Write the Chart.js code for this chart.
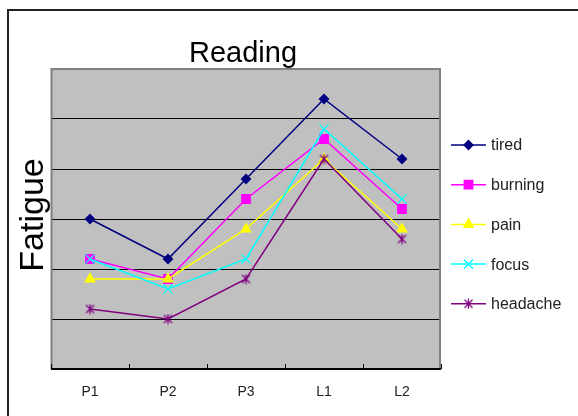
<!DOCTYPE html>
<html>
<head>
<meta charset="utf-8">
<title>Reading</title>
<script src="https://cdn.jsdelivr.net/npm/chart.js@4/dist/chart.umd.min.js"></script>
<style>
  html, body { margin: 0; padding: 0; background: #ffffff; }
  #wrap { width: 578px; height: 416px; position: relative; }
</style>
</head>
<body>
<div id="wrap"><canvas id="chart" width="578" height="416"></canvas></div>
<script>
// Fatigue ratings per reading condition
const categories = ['P1', 'P2', 'P3', 'L1', 'L2'];
const tired    = [3.0, 2.2, 3.8, 5.4, 4.2];
const burning  = [2.2, 1.8, 3.4, 4.6, 3.2];
const pain     = [1.8, 1.8, 2.8, 4.2, 2.8];
const focus    = [2.2, 1.6, 2.2, 4.8, 3.4];
const headache = [1.2, 1.0, 1.8, 4.2, 2.6];
const seriesNames = ['tired', 'burning', 'pain', 'focus', 'headache'];
const yMin = 0, yMax = 6, yStep = 1;

const titleText = 'Reading';
const yTitleText = 'Fatigue';
const FONT = '"Liberation Sans", Arial, sans-serif';

// asterisk marker: an X crossed by a vertical stroke
function makeStar(color) {
  const c = document.createElement('canvas');
  c.width = 11; c.height = 11;
  const g = c.getContext('2d');
  g.strokeStyle = color;
  g.lineWidth = 1.3;
  g.beginPath();
  g.moveTo(1.5, 1.5); g.lineTo(9.5, 9.5);
  g.moveTo(9.5, 1.5); g.lineTo(1.5, 9.5);
  g.moveTo(5.5, 0.5); g.lineTo(5.5, 10.5);
  g.stroke();
  return c;
}

const styles = [
  { color: '#000080', pointStyle: 'rectRot',  radius: 4.5 },
  { color: '#FF00FF', pointStyle: 'rect',     radius: 6   },
  { color: '#FFFF00', pointStyle: 'triangle', radius: 5.5 },
  { color: '#00FFFF', pointStyle: 'crossRot', radius: 6.5 },
  { color: '#800080', pointStyle: makeStar('#800080'), radius: 5.5 }
];
const values = [tired, burning, pain, focus, headache];

const datasets = seriesNames.map((name, i) => ({
  label: name,
  data: values[i],
  borderColor: styles[i].color,
  backgroundColor: styles[i].color,
  borderWidth: 1.5,
  pointStyle: styles[i].pointStyle,
  pointRadius: styles[i].radius,
  pointHoverRadius: styles[i].radius,
  pointBorderWidth: 1.3,
  pointBackgroundColor: styles[i].color,
  pointBorderColor: styles[i].color,
  tension: 0,
  // later series are painted over earlier ones
  order: seriesNames.length - i
}));

const framePlugin = {
  id: 'frame',
  beforeDraw(chart) {
    const { ctx, chartArea: a } = chart;
    ctx.save();
    ctx.fillStyle = '#ffffff';
    ctx.fillRect(0, 0, chart.width, chart.height);
    // outer chart border (open to the right and bottom)
    ctx.fillStyle = '#222222';
    ctx.fillRect(7, 9, chart.width - 7, 2);
    ctx.fillRect(7, 9, 2, chart.height - 9);
    // plot background
    ctx.fillStyle = '#C0C0C0';
    ctx.fillRect(a.left, a.top, a.right - a.left, a.bottom - a.top);
    ctx.restore();
  },
  beforeDatasetsDraw(chart) {
    const { ctx, chartArea: a, scales } = chart;
    const x = scales.x;
    ctx.save();
    // plot frame
    ctx.strokeStyle = '#808080';
    ctx.lineWidth = 2;
    ctx.beginPath();
    ctx.moveTo(a.left + 0.5, a.bottom);
    ctx.lineTo(a.left + 0.5, a.top);
    ctx.lineTo(a.right - 1, a.top);
    ctx.lineTo(a.right - 1, a.bottom);
    ctx.stroke();
    // category axis with inward tick marks between categories
    ctx.strokeStyle = '#000000';
    ctx.lineWidth = 2;
    ctx.beginPath();
    ctx.moveTo(a.left, a.bottom);
    ctx.lineTo(a.right, a.bottom);
    ctx.stroke();
    ctx.lineWidth = 1;
    ctx.beginPath();
    for (let i = 0; i <= categories.length; i++) {
      let px;
      if (i === 0) px = a.left;
      else if (i === categories.length) px = a.right;
      else px = (x.getPixelForValue(i - 1) + x.getPixelForValue(i)) / 2;
      px = Math.round(px) + 0.5;
      ctx.moveTo(px, a.bottom);
      ctx.lineTo(px, a.bottom - 5);
    }
    ctx.stroke();
    ctx.restore();
  },
  afterDraw(chart) {
    const { ctx, chartArea: a } = chart;
    ctx.save();
    // chart title
    ctx.fillStyle = '#000000';
    ctx.font = '29px ' + FONT;
    ctx.textAlign = 'center';
    ctx.textBaseline = 'alphabetic';
    ctx.fillText(titleText, 243, 62);
    // value axis title
    ctx.translate(43, 215);
    ctx.rotate(-Math.PI / 2);
    ctx.font = '34px ' + FONT;
    ctx.fillText(yTitleText, 0, 0);
    ctx.restore();

    // legend: line sample with marker, then name
    ctx.save();
    chart.data.datasets.forEach((ds, i) => {
      const cy = 145 + i * 39.7;
      ctx.strokeStyle = ds.borderColor;
      ctx.lineWidth = 1.5;
      ctx.beginPath();
      ctx.moveTo(451, cy);
      ctx.lineTo(486, cy);
      ctx.stroke();
      ctx.fillStyle = ds.pointBackgroundColor;
      ctx.strokeStyle = ds.pointBorderColor;
      ctx.lineWidth = ds.pointBorderWidth;
      Chart.helpers.drawPoint(ctx, {
        pointStyle: ds.pointStyle,
        radius: ds.pointRadius,
        rotation: 0,
        borderWidth: ds.pointBorderWidth
      }, 468.5, cy);
      ctx.fillStyle = '#222222';
      ctx.font = '16px ' + FONT;
      ctx.textAlign = 'left';
      ctx.textBaseline = 'middle';
      ctx.fillText(ds.label, 491, cy + 1);
    });
    ctx.restore();
  }
};

new Chart(document.getElementById('chart'), {
  type: 'line',
  data: { labels: categories, datasets },
  options: {
    responsive: false,
    animation: false,
    devicePixelRatio: 1,
    layout: { padding: { left: 51, right: 137, top: 69, bottom: 0 } },
    plugins: {
      legend: { display: false },
      title: { display: false },
      tooltip: { enabled: false }
    },
    scales: {
      x: {
        type: 'category',
        offset: true,
        grid: { display: false, drawTicks: false },
        border: { display: false },
        ticks: {
          color: '#222222',
          font: { family: FONT, size: 14 },
          padding: 15,
          maxRotation: 0,
          autoSkip: false
        },
        afterFit(scale) { scale.height = 47; }
      },
      y: {
        min: yMin,
        max: yMax,
        ticks: { display: false, stepSize: yStep },
        border: { display: false },
        grid: {
          drawTicks: false,
          lineWidth: 1,
          color: (c) => (c.tick && (c.tick.value === yMin || c.tick.value === yMax))
            ? 'rgba(0,0,0,0)' : '#000000'
        },
        afterFit(scale) { scale.width = 0; }
      }
    }
  },
  plugins: [framePlugin]
});
</script>
</body>
</html>
